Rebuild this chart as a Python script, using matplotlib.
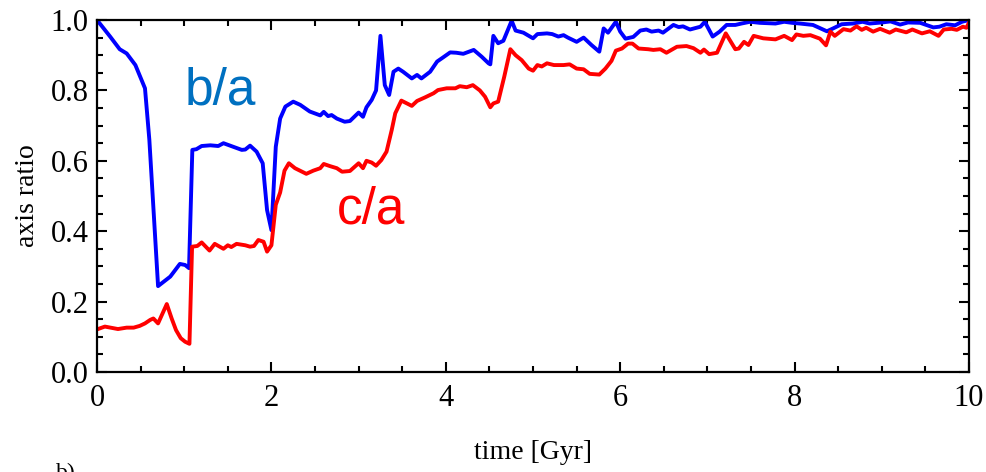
import matplotlib
matplotlib.use("Agg")
import matplotlib.pyplot as plt
from matplotlib.ticker import MultipleLocator

# b/a axis ratio vs time
t_ba = [0.0, 0.15, 0.26, 0.34, 0.44, 0.55, 0.60, 0.70, 0.84, 0.95, 1.01, 1.055,
        1.093, 1.14, 1.20, 1.30, 1.39, 1.45, 1.56, 1.66, 1.70, 1.755, 1.83, 1.90,
        1.95, 2.0, 2.05, 2.10, 2.16, 2.25, 2.33, 2.44, 2.56, 2.60, 2.65, 2.69,
        2.75, 2.84, 2.90, 3.0, 3.05, 3.09, 3.15, 3.20, 3.25, 3.30, 3.35, 3.40,
        3.455, 3.51, 3.61, 3.67, 3.72, 3.82, 3.90, 3.97, 4.05, 4.12, 4.20, 4.32,
        4.41, 4.49, 4.51, 4.545, 4.60, 4.66, 4.755, 4.80, 4.89, 5.0, 5.05, 5.16,
        5.22, 5.29, 5.35, 5.40, 5.50, 5.58, 5.67, 5.76, 5.81, 5.86, 5.95, 6.0,
        6.06, 6.15, 6.23, 6.30, 6.36, 6.44, 6.49, 6.61, 6.67, 6.72, 6.80, 6.92,
        6.97, 7.06, 7.14, 7.22, 7.32, 7.39, 7.49, 7.6, 7.78, 7.88, 7.97, 8.06,
        8.21, 8.37, 8.44, 8.54, 8.67, 8.78, 8.86, 9.0, 9.1, 9.21, 9.3, 9.44,
        9.59, 9.66, 9.74, 9.84, 9.92, 10.0]
ba = [1.0, 0.953, 0.917, 0.905, 0.872, 0.806, 0.66, 0.244, 0.271, 0.307, 0.304, 0.295,
      0.631, 0.633, 0.642, 0.644, 0.642, 0.650, 0.640, 0.631, 0.632, 0.643, 0.626, 0.593,
      0.46, 0.403, 0.64, 0.72, 0.754, 0.768, 0.759, 0.740, 0.729, 0.739, 0.727, 0.730,
      0.720, 0.711, 0.713, 0.737, 0.725, 0.752, 0.773, 0.80, 0.955, 0.815, 0.787, 0.853,
      0.862, 0.853, 0.834, 0.844, 0.834, 0.853, 0.882, 0.894, 0.908, 0.907, 0.904, 0.915,
      0.896, 0.877, 0.874, 0.955, 0.934, 0.941, 0.998, 0.970, 0.964, 0.948, 0.960, 0.962,
      0.960, 0.953, 0.957, 0.950, 0.938, 0.950, 0.929, 0.910, 0.976, 0.964, 0.995, 0.967,
      0.947, 0.952, 0.970, 0.973, 0.967, 0.970, 0.964, 0.986, 0.980, 0.982, 0.973, 0.981,
      0.995, 0.953, 0.967, 0.986, 0.986, 0.990, 0.995, 0.992, 0.990, 0.995, 0.992, 0.990,
      0.986, 0.968, 0.976, 0.988, 0.990, 0.995, 0.990, 0.993, 0.996, 0.987, 0.993, 0.992,
      0.979, 0.981, 0.988, 0.985, 0.995, 1.0]

# c/a axis ratio vs time
t_ca = [0.0, 0.09, 0.24, 0.34, 0.42, 0.49, 0.55, 0.61, 0.646, 0.70, 0.80, 0.856,
        0.906, 0.96, 1.01, 1.06, 1.09, 1.15, 1.20, 1.29, 1.35, 1.45, 1.50, 1.54,
        1.60, 1.70, 1.755, 1.80, 1.85, 1.91, 1.95, 2.0, 2.05, 2.10, 2.15, 2.20,
        2.27, 2.40, 2.48, 2.56, 2.60, 2.67, 2.75, 2.81, 2.90, 3.0, 3.05, 3.09,
        3.15, 3.20, 3.26, 3.32, 3.38, 3.42, 3.49, 3.61, 3.67, 3.76, 3.86, 3.91,
        4.01, 4.11, 4.16, 4.24, 4.31, 4.39, 4.45, 4.51, 4.545, 4.60, 4.67, 4.74,
        4.80, 4.87, 4.95, 5.0, 5.05, 5.10, 5.16, 5.24, 5.35, 5.42, 5.50, 5.58,
        5.65, 5.76, 5.83, 5.90, 5.95, 6.02, 6.09, 6.14, 6.21, 6.32, 6.38, 6.46,
        6.53, 6.65, 6.76, 6.84, 6.92, 6.96, 7.02, 7.11, 7.21, 7.32, 7.36, 7.42,
        7.47, 7.53, 7.64, 7.78, 7.88, 7.97, 8.02, 8.10, 8.18, 8.29, 8.36, 8.41,
        8.46, 8.56, 8.64, 8.71, 8.77, 8.82, 8.90, 8.98, 9.09, 9.16, 9.28, 9.35,
        9.46, 9.55, 9.65, 9.71, 9.80, 9.86, 9.93, 9.97, 10.0]
ca = [0.121, 0.129, 0.122, 0.126, 0.126, 0.131, 0.138, 0.148, 0.152, 0.138, 0.193, 0.152,
      0.119, 0.096, 0.086, 0.080, 0.356, 0.358, 0.368, 0.345, 0.364, 0.350, 0.360, 0.355,
      0.364, 0.360, 0.356, 0.358, 0.375, 0.370, 0.342, 0.360, 0.475, 0.510, 0.572, 0.593,
      0.579, 0.563, 0.572, 0.579, 0.591, 0.585, 0.579, 0.569, 0.571, 0.593, 0.579, 0.600,
      0.595, 0.586, 0.602, 0.626, 0.688, 0.735, 0.771, 0.756, 0.770, 0.780, 0.792, 0.801,
      0.806, 0.806, 0.812, 0.809, 0.815, 0.800, 0.782, 0.752, 0.763, 0.768, 0.839, 0.917,
      0.900, 0.886, 0.862, 0.856, 0.872, 0.868, 0.877, 0.872, 0.872, 0.874, 0.862, 0.860,
      0.847, 0.845, 0.862, 0.884, 0.913, 0.919, 0.933, 0.933, 0.919, 0.917, 0.915, 0.917,
      0.907, 0.924, 0.926, 0.920, 0.907, 0.916, 0.903, 0.907, 0.962, 0.917, 0.919, 0.938,
      0.929, 0.955, 0.948, 0.945, 0.955, 0.943, 0.959, 0.955, 0.957, 0.947, 0.928, 0.967,
      0.955, 0.974, 0.970, 0.982, 0.972, 0.978, 0.967, 0.975, 0.964, 0.973, 0.965, 0.973,
      0.962, 0.968, 0.955, 0.973, 0.975, 0.972, 0.981, 0.978, 0.993]

serif = ["Liberation Serif", "DejaVu Serif"]
sans = ["Liberation Sans", "DejaVu Sans"]

fig = plt.figure(figsize=(9.87, 4.72), dpi=100)
ax = fig.add_axes([0.0983, 0.2119, 0.8835, 0.7457])

ax.plot(t_ba, ba, color="#0000ff", lw=2.8, solid_joinstyle="round")
ax.plot(t_ca, ca, color="#ff0000", lw=2.8, solid_joinstyle="round")

ax.text(1.01, 0.761, "b/a", color="#0070c0", fontsize=37, family=sans,
        ha="left", va="baseline")
ax.text(2.75, 0.423, "c/a", color="#ff0000", fontsize=37, family=sans,
        ha="left", va="baseline")

ax.set_xlim(0, 10)
ax.set_ylim(0, 1.0)
ax.xaxis.set_major_locator(MultipleLocator(2))
ax.xaxis.set_minor_locator(MultipleLocator(0.5))
ax.yaxis.set_major_locator(MultipleLocator(0.2))
ax.yaxis.set_minor_locator(MultipleLocator(0.05))
ax.yaxis.set_major_formatter(lambda v, p: f"{v:.1f}")

ax.tick_params(which="both", direction="in", top=True, right=True, width=1.5,
               labelsize=22, labelfontfamily=serif)
ax.tick_params(which="major", length=7)
ax.tick_params(which="minor", length=4)
ax.tick_params(axis="x", pad=9)
ax.tick_params(axis="y", pad=6)
for s in ax.spines.values():
    s.set_linewidth(1.6)

ax.set_xlabel("time [Gyr]", family=serif, fontsize=20, labelpad=19)
ax.set_ylabel("axis ratio", family=serif, fontsize=20, labelpad=8)

# panel tag cut off at the bottom edge
fig.text(56 / 987, 1 - 463 / 472, "b)", family=serif, fontsize=17, va="top")

fig.savefig("out.png", dpi=100)
